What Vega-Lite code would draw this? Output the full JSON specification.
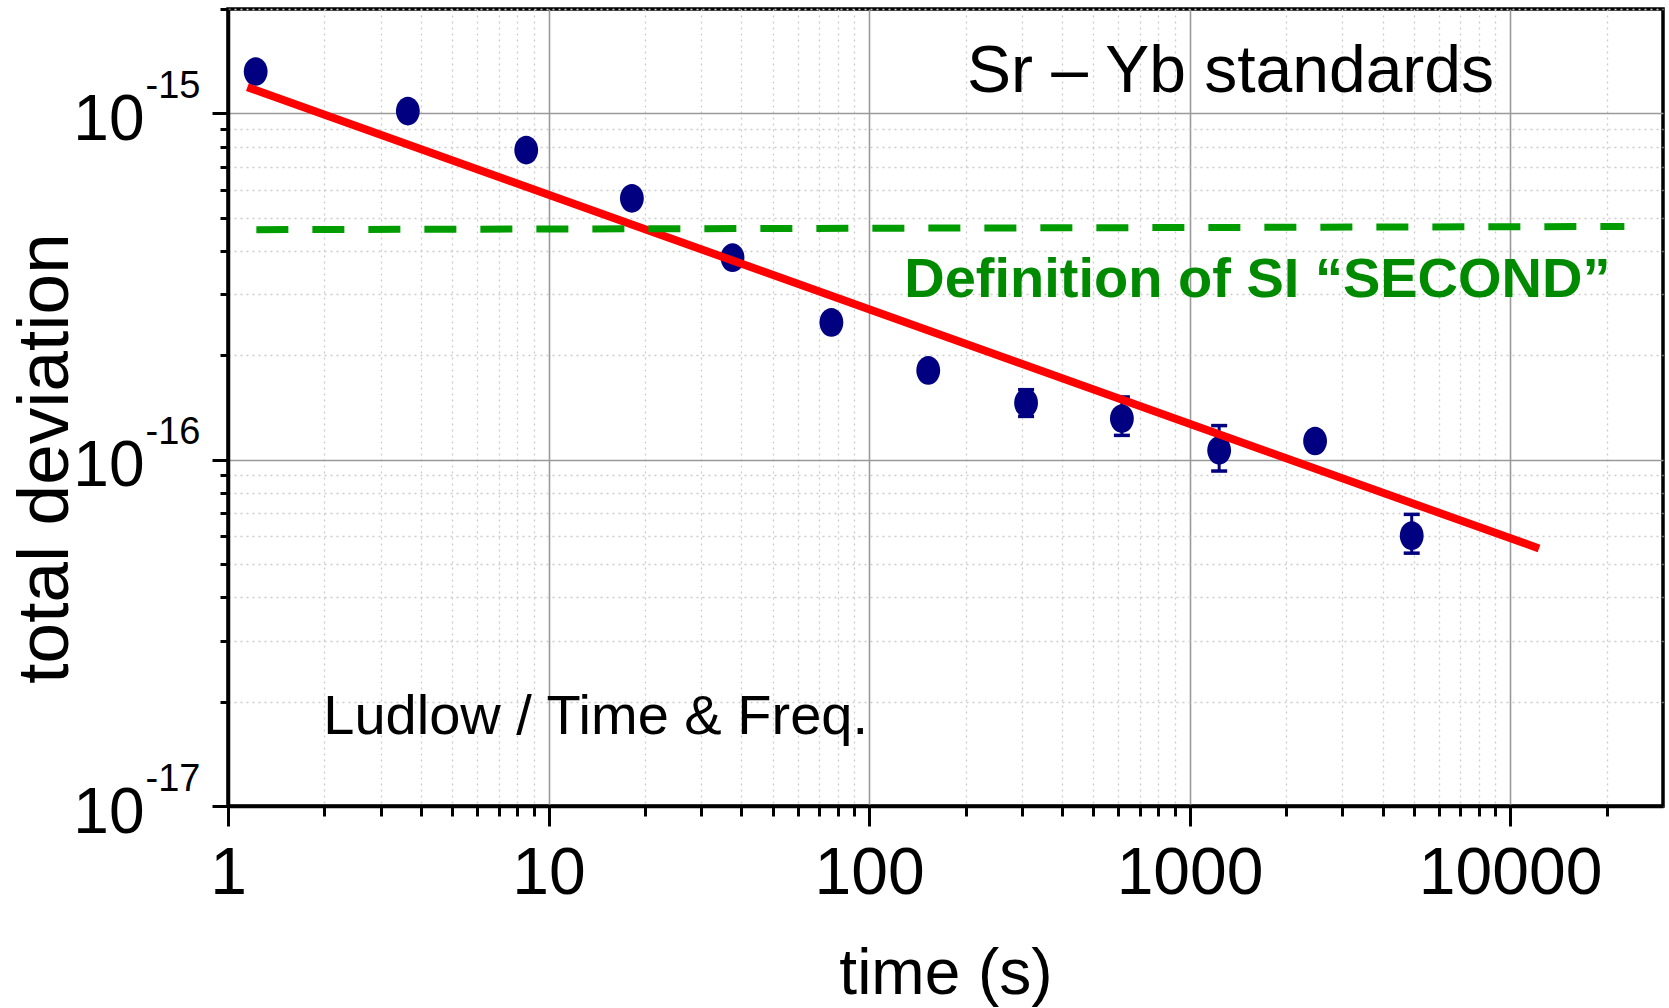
{
  "$schema": "https://vega.github.io/schema/vega-lite/v6.json",
  "width": 1435,
  "height": 797,
  "autosize": {"type": "none"},
  "padding": {"left": 228, "top": 9, "right": 6, "bottom": 202},
  "background": "white",
  "config": {
    "view": {"stroke": "black", "strokeWidth": 3.5},
    "axis": {"labelColor": "black", "titleColor": "black", "domainColor": "black", "tickColor": "black", "labelLimit": 0, "titleLimit": 0}
  },
  "datasets": {
    "points": [
      {"t": 1.22, "v": 1.32e-15},
      {"t": 3.64, "v": 1.015e-15},
      {"t": 8.52, "v": 7.83e-16},
      {"t": 18.2, "v": 5.68e-16},
      {"t": 37.5, "v": 3.83e-16},
      {"t": 76.3, "v": 2.49e-16},
      {"t": 153, "v": 1.81e-16},
      {"t": 309, "v": 1.458e-16, "lo": 1.333e-16, "hi": 1.592e-16},
      {"t": 615, "v": 1.314e-16, "lo": 1.175e-16, "hi": 1.517e-16},
      {"t": 1237, "v": 1.064e-16, "lo": 9.27e-17, "hi": 1.254e-16},
      {"t": 2464, "v": 1.132e-16},
      {"t": 4933, "v": 6.03e-17, "lo": 5.37e-17, "hi": 6.95e-17}
    ],
    "fit": [
      {"t": 1.149, "v": 1.189e-15},
      {"t": 12310, "v": 5.54e-17}
    ],
    "si": [
      {"t": 1.226, "v": 4.612e-16},
      {"t": 22730, "v": 4.711e-16}
    ],
    "title1": [{"t": 1342, "v": 1.154e-15, "label": "Sr – Yb standards"}],
    "title2": [{"t": 1628, "v": 2.955e-16, "label": "Definition of SI “SECOND”"}],
    "title3": [{"t": 14.03, "v": 1.609e-17, "label": "Ludlow / Time & Freq."}]
  },
  "resolve": {"axis": {"y": "independent"}},
  "layer": [
    {
      "data": {"name": "points"},
      "mark": {"type": "point", "shape": "M -0.83 0 A 0.83 1 0 1 1 0.83 0 A 0.83 1 0 1 1 -0.83 0 Z", "filled": true, "color": "#000080", "size": 824, "opacity": 1, "strokeWidth": 0},
      "encoding": {
        "x": {
          "field": "t", "type": "quantitative",
          "scale": {"type": "log", "domain": [1, 30000], "nice": false},
          "axis": {
            "values": [1,2,3,4,5,6,7,8,9,10,20,30,40,50,60,70,80,90,100,200,300,400,500,600,700,800,900,1000,2000,3000,4000,5000,6000,7000,8000,9000,10000,20000],
            "labelExpr": "abs(log(datum.value)/LN10 - round(log(datum.value)/LN10)) < 0.01 ? format(datum.value, 'd') : ''",
            "labelFont": "Liberation Sans",
            "labelFontSize": 66,
            "labelPadding": 15,
            "labelFlush": false,
            "labelOverlap": false,
            "labelBound": false,
            "labelLimit": 0,
            "tickWidth": 3,
            "tickSize": {"condition": {"test": "abs(log(datum.value)/LN10 - round(log(datum.value)/LN10)) < 0.01", "value": 20}, "value": 10},
            "domainWidth": 3.5,
            "grid": true,
            "gridColor": {"condition": {"test": "abs(log(datum.value)/LN10 - round(log(datum.value)/LN10)) < 0.01", "value": "#9a9a9a"}, "value": "#cccccc"},
            "gridDash": {"condition": {"test": "abs(log(datum.value)/LN10 - round(log(datum.value)/LN10)) < 0.01", "value": []}, "value": [2, 4]},
            "gridWidth": {"condition": {"test": "abs(log(datum.value)/LN10 - round(log(datum.value)/LN10)) < 0.01", "value": 1.6}, "value": 1.3},
            "title": "time (s)",
            "titleFont": "Liberation Sans",
            "titleFontSize": 64,
            "titleFontWeight": "normal",
            "titleBaseline": "alphabetic",
            "titleY": 187
          }
        },
        "y": {
          "field": "v", "type": "quantitative",
          "scale": {"type": "log", "domain": [1e-17, 2e-15], "nice": false},
          "axis": {
            "orient": "left",
            "values": [1e-17,2e-17,3e-17,4e-17,5e-17,6e-17,7e-17,8e-17,9e-17,1e-16,2e-16,3e-16,4e-16,5e-16,6e-16,7e-16,8e-16,9e-16,1e-15,2e-15],
            "labelExpr": "abs(log(datum.value)/LN10 - round(log(datum.value)/LN10)) < 0.01 ? '10' : ''",
            "labelFont": "Liberation Sans",
            "labelFontSize": 64,
            "labelPadding": 68,
            "labelOffset": 7,
            "labelFlush": false,
            "labelOverlap": false,
            "labelBound": false,
            "labelLimit": 0,
            "tickWidth": 3,
            "tickSize": {"condition": {"test": "abs(log(datum.value)/LN10 - round(log(datum.value)/LN10)) < 0.01", "value": 16}, "value": 8},
            "domainWidth": 3.5,
            "grid": true,
            "gridColor": {"condition": {"test": "abs(log(datum.value)/LN10 - round(log(datum.value)/LN10)) < 0.01", "value": "#9a9a9a"}, "value": "#cccccc"},
            "gridDash": {"condition": {"test": "abs(log(datum.value)/LN10 - round(log(datum.value)/LN10)) < 0.01", "value": []}, "value": [2, 4]},
            "gridWidth": {"condition": {"test": "abs(log(datum.value)/LN10 - round(log(datum.value)/LN10)) < 0.01", "value": 1.6}, "value": 1.3},
            "title": "total deviation",
            "titleFont": "Liberation Sans",
            "titleFontSize": 73,
            "titleFontWeight": "normal",
            "titleBaseline": "alphabetic",
            "titleX": -161,
            "titleY": 449
          }
        }
      }
    },
    {
      "data": {"name": "points"},
      "transform": [{"filter": "isValid(datum.lo)"}],
      "mark": {"type": "rule", "color": "#000080", "strokeWidth": 3},
      "encoding": {
        "x": {"field": "t", "type": "quantitative", "scale": {"type": "log", "domain": [1, 30000], "nice": false}},
        "y": {
          "field": "lo", "type": "quantitative",
          "scale": {"type": "log", "domain": [1e-17, 2e-15], "nice": false},
          "axis": {
            "orient": "left",
            "values": [1e-17, 1e-16, 1e-15],
            "labelExpr": "'-' + (-round(log(datum.value)/LN10))",
            "labelFont": "Liberation Sans",
            "labelFontSize": 38,
            "labelPadding": 28,
            "labelOffset": -27,
            "labelFlush": false,
            "labelOverlap": false,
            "labelBound": false,
            "ticks": false,
            "tickSize": 0,
            "domain": false,
            "grid": false,
            "title": null
          }
        },
        "y2": {"field": "hi"}
      }
    },
    {
      "data": {"name": "points"},
      "transform": [{"filter": "isValid(datum.lo)"}],
      "mark": {"type": "tick", "orient": "horizontal", "color": "#000080", "size": 16, "thickness": 3.5, "opacity": 1},
      "encoding": {
        "x": {"field": "t", "type": "quantitative", "scale": {"type": "log", "domain": [1, 30000], "nice": false}},
        "y": {"field": "lo", "type": "quantitative", "scale": {"type": "log", "domain": [1e-17, 2e-15], "nice": false}, "axis": null}
      }
    },
    {
      "data": {"name": "points"},
      "transform": [{"filter": "isValid(datum.hi)"}],
      "mark": {"type": "tick", "orient": "horizontal", "color": "#000080", "size": 16, "thickness": 3.5, "opacity": 1},
      "encoding": {
        "x": {"field": "t", "type": "quantitative", "scale": {"type": "log", "domain": [1, 30000], "nice": false}},
        "y": {"field": "hi", "type": "quantitative", "scale": {"type": "log", "domain": [1e-17, 2e-15], "nice": false}, "axis": null}
      }
    },
    {
      "data": {"name": "fit"},
      "mark": {"type": "line", "color": "#ff0000", "strokeWidth": 8, "strokeCap": "butt"},
      "encoding": {
        "x": {"field": "t", "type": "quantitative", "scale": {"type": "log", "domain": [1, 30000], "nice": false}},
        "y": {"field": "v", "type": "quantitative", "scale": {"type": "log", "domain": [1e-17, 2e-15], "nice": false}, "axis": null}
      }
    },
    {
      "data": {"name": "si"},
      "mark": {"type": "line", "color": "#009c00", "strokeWidth": 7, "strokeCap": "butt", "strokeDash": [32, 24]},
      "encoding": {
        "x": {"field": "t", "type": "quantitative", "scale": {"type": "log", "domain": [1, 30000], "nice": false}},
        "y": {"field": "v", "type": "quantitative", "scale": {"type": "log", "domain": [1e-17, 2e-15], "nice": false}, "axis": null}
      }
    },
    {
      "data": {"name": "title1"},
      "mark": {"type": "text", "font": "Liberation Sans", "fontSize": 66, "align": "center", "baseline": "alphabetic", "color": "black"},
      "encoding": {
        "x": {"field": "t", "type": "quantitative", "scale": {"type": "log", "domain": [1, 30000], "nice": false}},
        "y": {"field": "v", "type": "quantitative", "scale": {"type": "log", "domain": [1e-17, 2e-15], "nice": false}, "axis": null},
        "text": {"field": "label"}
      }
    },
    {
      "data": {"name": "title2"},
      "mark": {"type": "text", "font": "Liberation Sans", "fontSize": 56, "fontWeight": "bold", "align": "center", "baseline": "alphabetic", "color": "#008a00"},
      "encoding": {
        "x": {"field": "t", "type": "quantitative", "scale": {"type": "log", "domain": [1, 30000], "nice": false}},
        "y": {"field": "v", "type": "quantitative", "scale": {"type": "log", "domain": [1e-17, 2e-15], "nice": false}, "axis": null},
        "text": {"field": "label"}
      }
    },
    {
      "data": {"name": "title3"},
      "mark": {"type": "text", "font": "Liberation Sans", "fontSize": 56, "align": "center", "baseline": "alphabetic", "color": "black"},
      "encoding": {
        "x": {"field": "t", "type": "quantitative", "scale": {"type": "log", "domain": [1, 30000], "nice": false}},
        "y": {"field": "v", "type": "quantitative", "scale": {"type": "log", "domain": [1e-17, 2e-15], "nice": false}, "axis": null},
        "text": {"field": "label"}
      }
    }
  ]
}
